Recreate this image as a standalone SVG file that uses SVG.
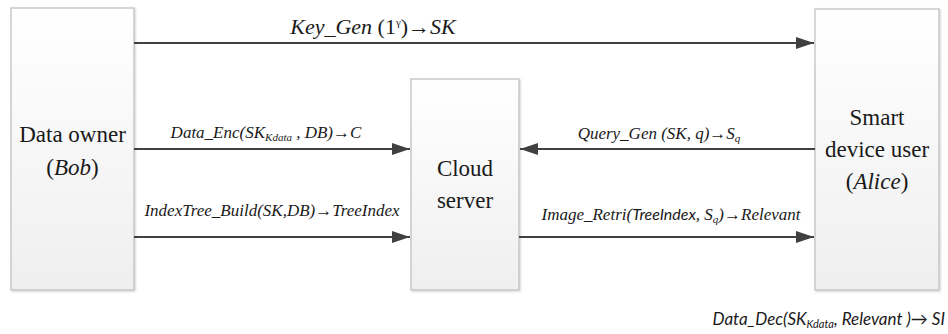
<svg xmlns="http://www.w3.org/2000/svg" width="948" height="334" viewBox="0 0 948 334">
<defs>
<linearGradient id="boxg" x1="0" y1="0" x2="0" y2="1">
<stop offset="0" stop-color="#ffffff"/>
<stop offset="1" stop-color="#efefef"/>
</linearGradient>
<filter id="sh" x="-5%" y="-5%" width="110%" height="110%">
<feDropShadow dx="1" dy="1" stdDeviation="0.8" flood-color="#000" flood-opacity="0.18"/>
</filter>
<marker id="ah" viewBox="0 0 18 12" refX="18" refY="6" markerWidth="18" markerHeight="12" markerUnits="userSpaceOnUse" orient="auto">
<path d="M0,0 L18,6 L0,12 Z" fill="#404040"/>
</marker>
</defs>
<style>
.box{fill:url(#boxg);stroke:#bdbdbd;stroke-width:1.2;filter:url(#sh)}
.node{font-family:'Liberation Serif','DejaVu Serif',serif;font-size:23px;fill:#1a1a1a;text-anchor:middle}
.lbl{font-family:'Liberation Serif','DejaVu Serif',serif;font-style:italic;font-size:17px;fill:#1a1a1a;text-anchor:middle}
.sans{font-family:Lato,'Liberation Sans',sans-serif;font-style:italic}
.conn{stroke:#404040;stroke-width:2;fill:none;marker-end:url(#ah)}
</style>
<g id="data-owner">
<rect class="box" x="11" y="8" width="123" height="282"/>
<text class="node" x="72.5" y="142">Data owner</text>
<text class="node" x="72.5" y="175">(<tspan font-style="italic">Bob</tspan>)</text>
</g>
<g id="cloud-server">
<rect class="box" x="411" y="79" width="108" height="211"/>
<text class="node" x="465" y="176">Cloud</text>
<text class="node" x="465" y="208">server</text>
</g>
<g id="smart-device-user">
<rect class="box" x="815" y="9" width="124" height="281"/>
<text class="node" x="877" y="125">Smart</text>
<text class="node" x="877" y="157">device user</text>
<text class="node" x="877" y="189">(<tspan font-style="italic">Alice</tspan>)</text>
</g>
<g id="connectors">
<line class="conn" x1="134" y1="43" x2="814" y2="43"/>
<line class="conn" x1="134" y1="149" x2="410" y2="149"/>
<line class="conn" x1="815" y1="149" x2="520" y2="149"/>
<line class="conn" x1="134" y1="237" x2="410" y2="237"/>
<line class="conn" x1="519" y1="237" x2="814" y2="237"/>
<text class="lbl" x="373" y="34" style="font-size:22px">Key_Gen <tspan font-style="normal">(1</tspan><tspan font-style="normal" font-size="11" dy="-8">γ</tspan><tspan font-style="normal" dy="8">)</tspan>→SK</text>
<text class="lbl" x="266" y="138">Data_Enc(SK<tspan font-size="11" dy="3">Kdata</tspan><tspan dy="-3"> , DB)→C</tspan></text>
<text class="lbl" x="272" y="216">IndexTree_Build(SK,DB)→TreeIndex</text>
<text class="lbl" x="659" y="139">Query_Gen (SK, q)→S<tspan font-size="11" dy="3">q</tspan></text>
<text class="lbl" x="671" y="220">Image_Retri(<tspan class="sans" font-size="16">TreeIndex</tspan>, S<tspan font-size="11" dy="3">q</tspan><tspan dy="-3">)→Relevant</tspan></text>
<text class="lbl sans" x="945" y="325" style="text-anchor:end;font-size:17px">Data_Dec(SK<tspan font-size="11" dy="3">Kdata</tspan><tspan dy="-3">, Relevant )→  SI</tspan></text>
</g>
</svg>
